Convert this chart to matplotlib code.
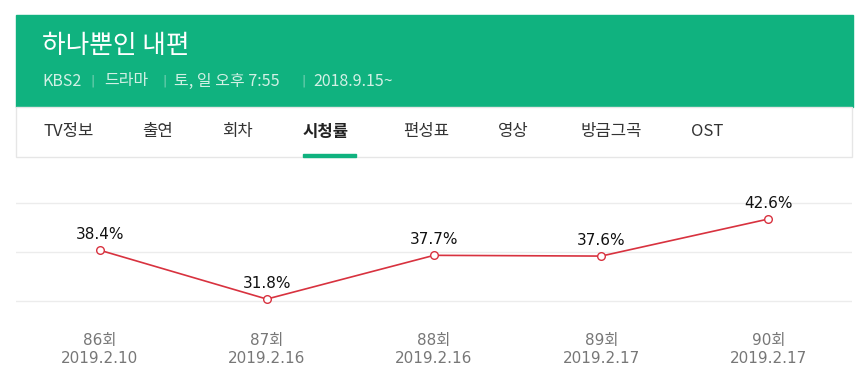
import matplotlib.pyplot as plt
from matplotlib.patches import Rectangle

plt.rcParams['font.family'] = ['DejaVu Sans', 'Noto Sans CJK KR']

# data
episodes = ["86회", "87회", "88회", "89회", "90회"]
dates = ["2019.2.10", "2019.2.16", "2019.2.16", "2019.2.17", "2019.2.17"]
ratings = [38.4, 31.8, 37.7, 37.6, 42.6]

title = "하나뿐인 내편"
info = ["KBS2", "드라마", "토, 일 오후 7:55", "2018.9.15~"]
info_x = [42, 104, 174, 313]
sep_x = [90, 162, 301]
tabs = ["TV정보", "출연", "회차", "시청률", "편성표", "영상", "방금그곡", "OST"]
tab_x = [43, 142, 222, 303, 403, 498, 580, 691]
active_tab = "시청률"

W, H = 866, 383
GREEN = "#10b27f"
RED = "#d8323f"

fig = plt.figure(figsize=(W / 100, H / 100), dpi=100)


def fx(px):
    return px / W


def fy(py):
    return 1 - py / H


# header banner
fig.patches.append(Rectangle((fx(16), fy(107)), fx(837), 92 / H,
                             transform=fig.transFigure, color=GREEN, zorder=0))
fig.text(fx(42), fy(46), title, color="white", fontsize=18.5,
         family=["Noto Sans CJK KR"], va="center", ha="left")
for s, x in zip(info, info_x):
    fig.text(fx(x), fy(81), s, color="#d2f0e5", fontsize=11.5,
             family=["Noto Sans CJK KR"], fontweight="light",
             va="center", ha="left")
for x in sep_x:
    fig.text(fx(x), fy(81), "|", color="#7fd3b7", fontsize=9,
             va="center", ha="left")

# tab bar
fig.patches.append(Rectangle((fx(16), fy(157)), fx(836), 50 / H,
                             transform=fig.transFigure, facecolor="white",
                             edgecolor="#e6e6e6", linewidth=1, zorder=0))
for t, x in zip(tabs, tab_x):
    bold = t == active_tab
    fig.text(fx(x), fy(132), t, color="#222222" if bold else "#333333",
             fontsize=12, family=["Noto Sans CJK KR"],
             fontweight="bold" if bold else "normal",
             va="center", ha="left")
    if bold:
        fig.patches.append(Rectangle((fx(x), fy(157)), fx(53), 3 / H,
                                     transform=fig.transFigure, color=GREEN,
                                     zorder=2))

# chart
ax = fig.add_axes([fx(16), fy(305), fx(836), 106 / H])
xs = list(range(len(ratings)))
ax.plot(xs, ratings, color=RED, linewidth=1.2, marker="o", markersize=5.5,
        markerfacecolor="white", markeredgecolor=RED, markeredgewidth=1,
        zorder=3, clip_on=False)
for x, v in zip(xs, ratings):
    ax.annotate(f"{v}%", (x, v), xytext=(0, 6), textcoords="offset points",
                ha="center", va="bottom", fontsize=11, color="#111111")

ax.set_xlim(-0.5, len(ratings) - 0.5)
ax.set_ylim(31.0, 45.3)
ax.set_yticks([31.55, 38.15, 44.75])
ax.yaxis.grid(True, color="#ececec", linewidth=1)
ax.set_yticklabels([])
ax.tick_params(axis="y", length=0)
ax.set_xticks(xs)
ax.set_xticklabels([f"{e}\n{d}" for e, d in zip(episodes, dates)],
                   color="#777777", fontsize=11, linespacing=1.3)
ax.tick_params(axis="x", length=0, pad=20)
for s in ax.spines.values():
    s.set_visible(False)
ax.set_axisbelow(True)

fig.savefig("out.png", dpi=100)
